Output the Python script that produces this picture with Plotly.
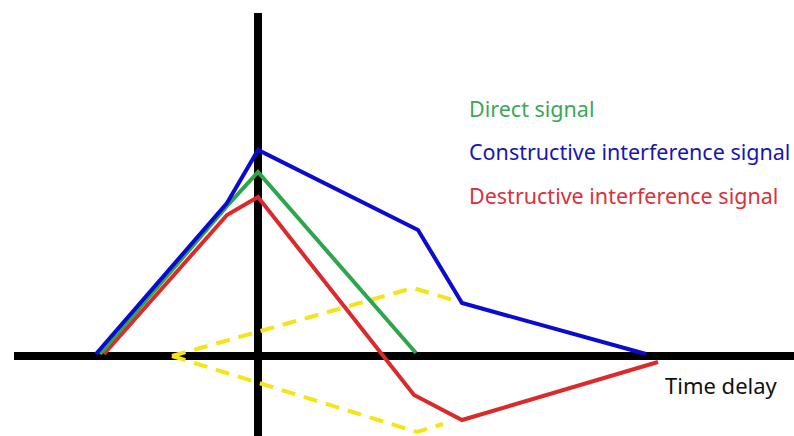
import plotly.graph_objects as go

# Time-delay axis (px-scaled units, origin at the peak of the direct signal)
direct_t = [-158, -31, 0, 158]
direct_a = [2, 150, 184, 3]

constructive_t = [-162, -31, 0, 160, 204, 388]
constructive_a = [2, 153, 206, 126, 53, 2]

destructive_t = [-154, -31, 0, 156, 204, 400]
destructive_a = [2, 141, 159, -39, -64, -6]

reflect_up_t = [-86, 155, 202]
reflect_up_a = [0, 68, 54]

reflect_down_t = [-86, 159, 185]
reflect_down_a = [0, -76, -68]

labels = ["Direct signal", "Constructive interference signal", "Destructive interference signal"]
label_colors = ["#3aa857", "#1616b4", "#d8313b"]
label_y = [248, 205, 161]

fig = go.Figure()

yellow = "#f5e419"
for t, a in [(reflect_up_t, reflect_up_a), (reflect_down_t, reflect_down_a)]:
    fig.add_trace(go.Scatter(x=t, y=a, mode="lines",
                             line=dict(color=yellow, width=4, dash="14px,9px"),
                             hoverinfo="skip"))

fig.add_trace(go.Scatter(x=destructive_t, y=destructive_a, mode="lines",
                         line=dict(color="#dc2a2c", width=4), name=labels[2]))
fig.add_trace(go.Scatter(x=direct_t, y=direct_a, mode="lines",
                         line=dict(color="#2da64b", width=4), name=labels[0]))
fig.add_trace(go.Scatter(x=constructive_t, y=constructive_a, mode="lines",
                         line=dict(color="#0b0bd0", width=4), name=labels[1]))

for txt, col, yy in zip(labels, label_colors, label_y):
    fig.add_annotation(x=209, y=yy, text=txt, showarrow=False,
                       xanchor="left", yanchor="middle",
                       font=dict(family="Noto Sans", size=21.5, color=col))

fig.add_annotation(x=405, y=-29, text="Time delay", showarrow=False,
                   xanchor="left", yanchor="middle",
                   font=dict(family="Noto Sans", size=22, color="#111111"))

fig.update_xaxes(range=[-244, 536], showgrid=False, showticklabels=False, ticks="",
                 zeroline=True, zerolinecolor="black", zerolinewidth=8)
fig.update_yaxes(range=[-80, 343], showgrid=False, showticklabels=False, ticks="",
                 zeroline=True, zerolinecolor="black", zerolinewidth=8)

fig.update_layout(width=794, height=436, margin=dict(l=14, r=0, t=13, b=0),
                  plot_bgcolor="white", paper_bgcolor="white", showlegend=False)

fig.write_html("out.html")
